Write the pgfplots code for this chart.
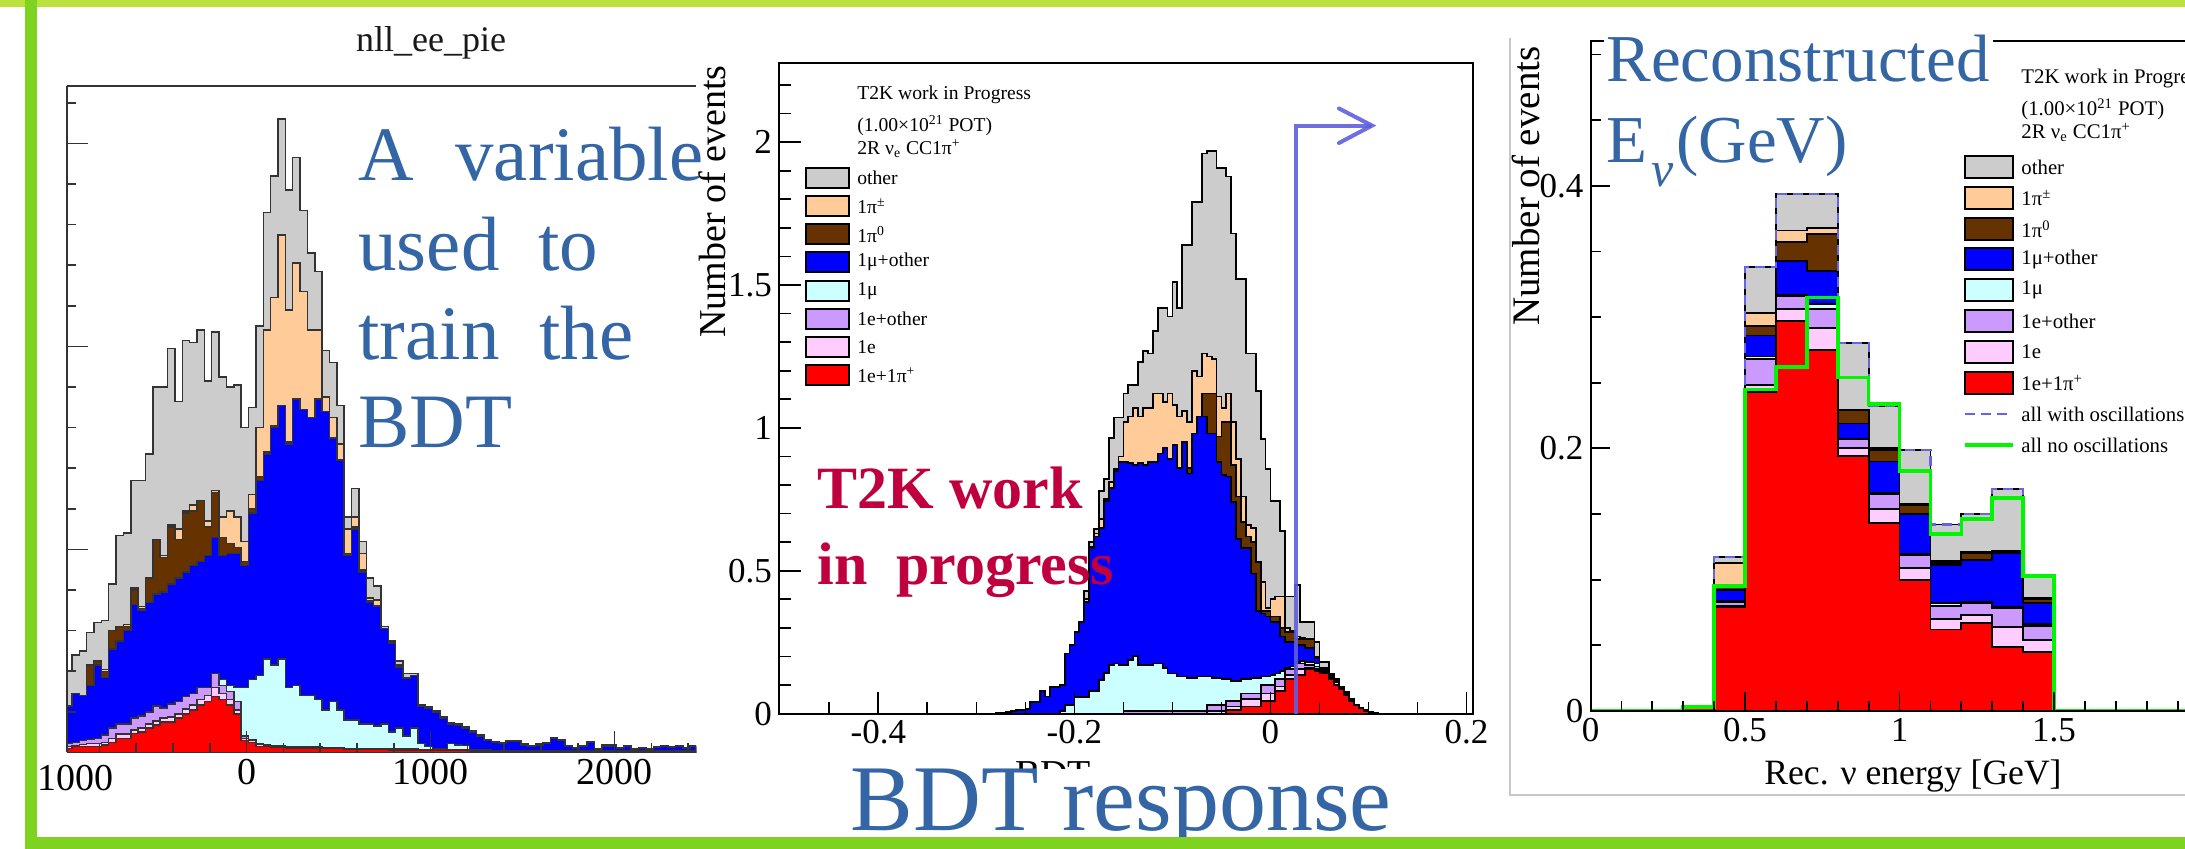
\documentclass[border=0pt]{standalone}
\usepackage{pgfplots}
\pgfplotsset{compat=1.18}
\usepackage{pgfplotstable}
\usepackage{fontspec}
\setmainfont{Liberation Serif}
\definecolor{rgray}{RGB}{204,204,204}
\definecolor{rorange}{RGB}{255,204,153}
\definecolor{rbrown}{RGB}{102,51,0}
\definecolor{rblue}{RGB}{0,0,255}
\definecolor{rcyan}{RGB}{204,255,255}
\definecolor{rpurple}{RGB}{204,153,255}
\definecolor{rpink}{RGB}{255,204,255}
\definecolor{rred}{RGB}{255,0,0}
\definecolor{ttblue}{RGB}{52,101,164}
\definecolor{crimson}{RGB}{192,0,62}
\definecolor{gtop}{RGB}{186,225,60}
\definecolor{gside}{RGB}{126,211,33}
\definecolor{arrowc}{RGB}{95,95,222}
\definecolor{oscdash}{RGB}{100,100,230}
\definecolor{nogreen}{RGB}{0,245,0}

\pgfplotstableread{
x r p u c b br o g
-975 .02 .03 .045 .045 .23 .23 .23 .40
-950 .03 .035 .05 .05 .29 .29 .29 .48
-910 .03 .04 .06 .06 .28 .28 .28 .50
-870 .03 .045 .065 .065 .33 .43 .43 .59
-830 .03 .045 .07 .07 .43 .45 .45 .64
-790 .037 .05 .085 .085 .37 .40 .41 .65
-750 .05 .07 .12 .12 .51 .60 .60 .83
-710 .07 .09 .14 .14 .55 .62 .62 1.07
-670 .07 .09 .14 .14 .60 .62 .63 1.08
-630 .094 .11 .17 .17 .73 .80 .81 1.34
-590 .10 .12 .18 .18 .70 .71 .72 1.34
-550 .12 .14 .20 .20 .74 .86 .86 1.47
-510 .135 .155 .23 .23 .78 1.05 1.05 1.80
-470 .15 .17 .22 .22 .79 .96 .97 1.80
-430 .15 .175 .24 .24 .83 1.11 1.12 1.99
-390 .17 .19 .25 .25 .86 1.05 1.10 1.73
-350 .19 .215 .275 .275 .89 1.18 1.19 2.03
-310 .21 .235 .29 .29 .92 1.19 1.22 2.02
-270 .234 .26 .32 .32 .94 1.24 1.24 2.08
-230 .25 .28 .32 .32 .97 1.11 1.14 1.83
-190 .275 .32 .39 .39 1.06 1.28 1.29 2.07
-150 .26 .29 .33 .36 .97 1.06 1.16 1.85
-110 .234 .26 .30 .33 .98 1.03 1.19 1.80
-70 .19 .21 .25 .32 .98 1.01 1.16 1.81
-30 .06 .07 .08 .32 .92 .94 1.04 1.60
10 .05 .06 .065 .36 1.18 1.20 1.27 1.70
50 .03 .04 .045 .38 1.34 1.36 1.60 2.10
90 .03 .035 .04 .46 1.47 1.48 2.08 2.66
130 .025 .03 .035 .43 1.60 1.61 2.24 2.84
170 .025 .03 .035 .46 1.71 1.71 2.55 3.12
210 .02 .025 .03 .32 1.52 1.53 2.18 2.77
250 .02 .025 .03 .33 1.74 1.74 2.41 2.93
290 .02 .025 .03 .28 1.69 1.69 2.27 2.67
330 .02 .025 .03 .28 1.65 1.65 2.08 2.46
370 .02 .025 .03 .26 1.74 1.74 2.08 2.37
410 .02 .022 .025 .21 1.68 1.68 1.75 1.98
450 .02 .022 .025 .25 1.55 1.55 1.65 1.92
490 .02 .022 .025 .21 1.44 1.44 1.52 1.71
530 .015 .018 .02 .16 .97 .98 1.10 1.16
570 .015 .018 .02 .16 1.10 1.11 1.16 1.30
610 .015 .018 .02 .14 .89 .90 .98 1.04
650 .015 .018 .02 .14 .74 .745 .76 .86
690 .015 .018 .02 .13 .72 .725 .75 .82
730 .015 .018 .02 .14 .61 .61 .61 .62
770 .012 .015 .018 .10 .54 .54 .545 .55
810 .012 .015 .018 .12 .42 .42 .43 .45
850 .012 .015 .018 .08 .365 .365 .37 .39
890 .012 .015 .018 .12 .38 .38 .38 .39
930 .01 .012 .015 .045 .23 .23 .23 .235
970 .01 .012 .015 .03 .22 .22 .22 .225
1010 .01 .012 .015 .02 .20 .20 .20 .205
1050 .01 .012 .015 .02 .17 .17 .17 .175
1090 .01 .012 .015 .045 .14 .14 .14 .145
1130 .01 .012 .015 .037 .135 .135 .135 .14
1170 .01 .012 .015 .035 .12 .12 .12 .125
1210 .008 .01 .012 .015 .10 .10 .10 .105
1250 .008 .01 .012 .012 .08 .08 .08 .085
1290 .008 .01 .012 .012 .06 .06 .06 .065
1330 .006 .008 .01 .01 .05 .05 .05 .055
1370 .005 .006 .008 .008 .045 .045 .045 .05
1410 .005 .006 .008 .008 .053 .053 .053 .058
1450 .005 .006 .008 .008 .053 .053 .053 .058
1490 .005 .006 .008 .008 .037 .037 .037 .042
1530 .005 .006 .008 .008 .03 .03 .03 .035
1570 .005 .006 .008 .008 .037 .037 .037 .042
1610 .005 .006 .008 .008 .045 .045 .045 .05
1650 .005 .006 .008 .008 .07 .07 .07 .075
1690 .005 .006 .008 .008 .06 .06 .06 .065
1730 .005 .006 .008 .008 .03 .03 .03 .035
1770 .005 .006 .008 .008 .02 .02 .02 .025
1810 .005 .006 .008 .008 .03 .03 .03 .035
1850 .005 .006 .008 .008 .05 .05 .05 .055
1890 .005 .006 .008 .008 .015 .015 .015 .02
1930 .005 .006 .008 .008 .032 .032 .032 .037
1970 .005 .006 .008 .008 .032 .032 .032 .037
2010 .005 .006 .008 .008 .02 .02 .02 .025
2050 .005 .006 .008 .008 .03 .03 .03 .035
2090 .005 .006 .008 .008 .012 .012 .012 .017
2130 .005 .006 .008 .008 .02 .02 .02 .025
2170 .005 .006 .008 .008 .015 .015 .015 .02
2210 .005 .006 .008 .008 .024 .024 .024 .029
2250 .005 .006 .008 .008 .03 .03 .03 .035
2290 .005 .006 .008 .008 .024 .024 .024 .029
2330 .005 .006 .008 .008 .03 .03 .03 .035
2370 .005 .006 .008 .008 .02 .02 .02 .025
2410 .005 .006 .008 .008 .03 .03 .03 .035
2442 .005 .006 .008 .008 .03 .03 .03 .035
}\tabone

\pgfplotstableread{
x r p u c b br o g
-0.285 0 0 0 0 0 0 0 0
-0.280 0 0 0 0 .003 .003 .003 .003
-0.275 0 0 0 0 .003 .003 .003 .003
-0.270 0 0 0 0 .005 .005 .005 .005
-0.265 0 0 0 0 .008 .008 .008 .008
-0.260 0 0 0 0 .013 .013 .013 .013
-0.255 0 0 0 0 .013 .013 .013 .013
-0.250 0 0 0 0 .015 .015 .015 .015
-0.245 0 0 0 0 .04 .04 .04 .04
-0.240 0 0 0 0 .04 .04 .04 .04
-0.235 0 0 0 0 .08 .08 .08 .08
-0.230 0 0 0 0 .06 .06 .06 .06
-0.225 0 0 0 0 .094 .094 .094 .094
-0.220 0 0 0 0 .094 .094 .094 .094
-0.215 0 0 0 .01 .10 .10 .10 .10
-0.210 0 0 0 .03 .21 .21 .21 .21
-0.205 0 0 0 .03 .24 .24 .24 .24
-0.200 0 0 0 .058 .285 .285 .285 .285
-0.195 0 0 0 .058 .32 .32 .32 .32
-0.190 0 0 0 .058 .39 .39 .40 .43
-0.185 0 0 0 .078 .58 .58 .585 .60
-0.180 0 0 0 .078 .62 .62 .63 .645
-0.175 0 0 0 .117 .65 .65 .68 .78
-0.170 0 0 0 .143 .745 .745 .75 .82
-0.165 0 0 0 .169 .79 .79 .81 .965
-0.160 0 0 0 .175 .85 .85 .855 1.036
-0.155 0 0 0 .169 .88 .88 .90 1.036
-0.150 0 0 .01 .169 .88 .88 1.02 1.12
-0.145 0 0 .01 .188 .876 .876 1.04 1.15
-0.140 0 0 .01 .201 .87 .87 1.07 1.15
-0.135 0 0 .01 .169 .876 .876 1.04 1.23
-0.130 0 0 .01 .17 .87 .87 1.07 1.27
-0.125 0 0 .01 .169 .88 .88 1.07 1.26
-0.120 0 0 .01 .175 .88 .88 1.12 1.34
-0.115 0 0 .01 .175 .91 .91 1.12 1.42
-0.110 0 0 .01 .16 .93 .93 1.09 1.42
-0.105 0 0 .01 .14 .89 .89 1.12 1.39
-0.100 0 0 .01 .14 .94 .94 1.08 1.51
-0.095 0 0 .01 .13 .86 .86 1.04 1.42
-0.090 0 0 .01 .13 .95 .95 1.06 1.64
-0.085 0 0 .01 .125 .84 .86 1.02 1.64
-0.080 0 0 .01 .125 .98 .98 1.20 1.79
-0.075 0 0 .01 .13 1.04 1.04 1.18 1.79
-0.070 0 0 .01 .13 1.04 1.12 1.26 1.96
-0.065 0 .01 .03 .13 .98 1.12 1.25 1.97
-0.060 0 .01 .03 .125 .98 1.12 1.24 1.97
-0.055 0 .01 .03 .125 .88 .97 1.11 1.91
-0.050 0 .01 .03 .12 .835 1.02 1.07 1.91
-0.045 .013 .025 .045 .12 .83 1.02 1.12 1.88
-0.040 .013 .025 .045 .115 .74 .87 1.02 1.68
-0.035 .013 .025 .045 .115 .61 .76 .89 1.52
-0.030 .025 .05 .07 .12 .58 .67 .76 1.52
-0.025 .025 .05 .07 .12 .58 .62 .66 1.26
-0.020 .025 .05 .07 .125 .49 .60 .65 1.26
-0.015 .025 .05 .07 .125 .36 .53 .53 1.13
-0.010 .045 .07 .10 .13 .35 .36 .46 .96
-0.005 .045 .07 .10 .13 .34 .36 .37 .855
0.000 .045 .07 .10 .135 .32 .34 .40 .745
0.005 .08 .095 .12 .14 .32 .34 .41 .745
0.010 .08 .095 .12 .15 .27 .30 .41 .64
0.015 .12 .135 .155 .16 .25 .285 .30 .41
0.020 .12 .135 .155 .165 .25 .285 .29 .41
0.025 .135 .155 .175 .18 .24 .26 .27 .45
0.030 .135 .155 .175 .185 .24 .26 .265 .32
0.035 .155 .16 .17 .18 .23 .26 .26 .32
0.040 .155 .16 .17 .18 .23 .26 .26 .32
0.045 .15 .155 .165 .175 .195 .20 .20 .25
0.050 .14 .14 .145 .15 .155 .16 .16 .18
0.055 .14 .14 .145 .15 .155 .16 .16 .18
0.060 .12 .125 .13 .13 .135 .135 .135 .14
0.065 .10 .11 .115 .115 .118 .118 .118 .12
0.070 .085 .088 .09 .09 .095 .095 .095 .095
0.075 .065 .068 .07 .07 .075 .075 .075 .075
0.080 .045 .048 .05 .05 .05 .05 .05 .05
0.085 .028 .03 .03 .03 .03 .03 .03 .03
0.090 .018 .02 .02 .02 .02 .02 .02 .02
0.095 .01 .012 .012 .012 .012 .012 .012 .012
0.100 .005 .006 .006 .006 .006 .006 .006 .006
0.105 .002 .003 .003 .003 .003 .003 .003 .003
0.110 0 0 0 0 0 0 0 0
}\tabtwo

\pgfplotstableread{
x r p u c b br o g n
0.0 0 0 0 0 0 0 0 0 0
0.1 0 0 0 0 0 0 0 0 0
0.2 0 0 0 0 0 0 0 0 0
0.3 .003 .003 .003 .003 .003 .003 .003 .003 .003
0.4 .079 .080 .083 .084 .092 .094 .113 .117 .095
0.5 .243 .248 .268 .27 .286 .293 .303 .338 .245
0.6 .297 .306 .316 .317 .343 .357 .366 .394 .262
0.7 .275 .292 .306 .31 .335 .363 .368 .394 .315
0.8 .194 .20 .207 .207 .219 .229 .229 .28 .254
0.9 .143 .154 .165 .166 .19 .199 .20 .232 .234
1.0 .10 .109 .119 .12 .15 .157 .158 .199 .183
1.1 .062 .07 .08 .082 .111 .113 .114 .142 .135
1.2 .067 .073 .082 .083 .115 .12 .121 .15 .146
1.3 .049 .064 .078 .079 .12 .121 .122 .169 .162
1.4 .045 .054 .065 .066 .082 .085 .086 .102 .103
1.5 0 0 0 0 0 0 0 0 0
1.6 0 0 0 0 0 0 0 0 0
1.7 0 0 0 0 0 0 0 0 0
1.8 0 0 0 0 0 0 0 0 0
1.9 0 0 0 0 0 0 0 0 0
2.0 0 0 0 0 0 0 0 0 0
}\tabthree

\newcommand{\stackplot}[2]{%
  \addplot[const plot, draw=#2, fill=rgray] table[x=x,y=g]{#1} \closedcycle;
  \addplot[const plot, draw=#2, fill=rorange] table[x=x,y=o]{#1} \closedcycle;
  \addplot[const plot, draw=#2, fill=rbrown] table[x=x,y=br]{#1} \closedcycle;
  \addplot[const plot, draw=#2, fill=rblue] table[x=x,y=b]{#1} \closedcycle;
  \addplot[const plot, draw=#2, fill=rcyan] table[x=x,y=c]{#1} \closedcycle;
  \addplot[const plot, draw=#2, fill=rpurple] table[x=x,y=u]{#1} \closedcycle;
  \addplot[const plot, draw=#2, fill=rpink] table[x=x,y=p]{#1} \closedcycle;
  \addplot[const plot, draw=#2, fill=rred] table[x=x,y=r]{#1} \closedcycle;
}

\pgfplotsset{rootax/.style={scale only axis, anchor=south west, axis on top,
  tick align=inside, major tick length=9.5pt, minor tick length=5pt,
  axis line style={line width=1pt, black}, tick style={line width=0.9pt, black},
  tick label style={font=\fontsize{17.5pt}{18pt}\selectfont},
  /pgf/number format/assume math mode=true,
  /pgf/number format/1000 sep={},
  every axis plot/.append style={line width=0.9pt},
  xtick pos=left, ytick pos=left}}

\begin{document}
\begin{tikzpicture}
\path[use as bounding box] (0,0) rectangle (1092.5pt,424.5pt);
\clip (0,0) rectangle (1092.5pt,424.5pt);

% panel 3 canvas edges
\begin{scope}[shift={(0pt,424.5pt)}, x=0.5pt, y=-0.5pt]
\draw[black!22, line width=0.6pt] (1510,38) -- (1510,795) -- (2190,795);
\end{scope}

% ---------- Panel 1 ----------
\begin{axis}[rootax, at={(33.65pt,48.25pt)}, width=314.35pt, height=333.25pt,
  xmin=-975, xmax=2442, ymin=0, ymax=3.283,
  axis x line*=box, axis y line*=left, xtick pos=left, ytick pos=left,
  xtick={0,1000,2000},
  minor xtick={-800,-600,-400,-200,200,400,600,800,1200,1400,1600,1800,2200,2400},
  ytick={0,1,2,3}, minor ytick={0.2,0.4,...,3.2}, yticklabels={},
  major tick length=10.5pt, minor tick length=4.5pt,
  axis line style={line width=0.8pt, black!80},
  tick style={line width=0.8pt, black!80},
  every axis plot/.append style={line width=0.75pt},
  tick label style={font=\fontsize{19pt}{20pt}\selectfont}]
\stackplot{\tabone}{black!80}
\end{axis}

% ---------- Panel 2 ----------
\begin{axis}[rootax, at={(389.5pt,67.7pt)}, width=347pt, height=325.15pt,
  xmin=-0.5014, xmax=0.2067, ymin=0, ymax=2.276,
  xtick={-0.4,-0.2,0,0.2},
  minor xtick={-0.45,-0.35,-0.3,-0.25,-0.15,-0.1,-0.05,0.05,0.1,0.15},
  ytick={0,0.5,1,1.5,2}, minor ytick={0.1,0.2,...,2.2},
  major tick length=11pt, minor tick length=6pt]
\stackplot{\tabtwo}{black}
\end{axis}

% ---------- Panel 3 ----------
\begin{axis}[rootax, at={(795.25pt,69pt)}, width=309pt, height=335.2pt,
  xmin=0, xmax=2, ymin=0, ymax=0.5106,
  xtick={0,0.5,1,1.5,2}, minor xtick={0.1,0.2,...,1.9},
  ytick={0,0.2,0.4}, minor ytick={0.05,0.1,...,0.5},
  major tick length=9.5pt, minor tick length=5pt]
\stackplot{\tabthree}{black}
\addplot[const plot, draw=oscdash, dash pattern=on 5pt off 3pt, line width=1.1pt] table[x=x,y=g]{\tabthree};
\addplot[const plot, draw=nogreen, line width=1.8pt] table[x=x,y=n]{\tabthree};
\end{axis}

\begin{scope}[shift={(0pt,424.5pt)}, x=0.5pt, y=-0.5pt]
% panel 1 texts
\node[anchor=base, font=\fontsize{18pt}{19pt}\selectfont, text=black!90, inner sep=0] at (431,51.5) {nll\_ee\_pie};
\node[anchor=base east, font=\fontsize{19pt}{20pt}\selectfont, inner sep=0] at (114,791) {-1000};

% panel 2 labels
\node[rotate=90, anchor=base east, font=\fontsize{19pt}{20pt}\selectfont, inner sep=0] at (725,65) {Number of events};
\node[anchor=base, font=\fontsize{19pt}{20pt}\selectfont, inner sep=0] at (1053,787) {BDT};
% panel 2 legend
\begin{scope}[font=\fontsize{9.8pt}{11pt}\selectfont]
\node[anchor=base west, inner sep=0] at (857,99.3) {T2K work in Progress};
\node[anchor=base west, inner sep=0] at (857,131.7) {(1.00×10\textsuperscript{21} POT)};
\node[anchor=base west, inner sep=0] at (857,155) {2R ν\textsubscript{e} CC1π\textsuperscript{+}};
\foreach \yy/\cc/\lab in {178.3/rgray/other, 206/rorange/1π\textsuperscript{±}, 234.3/rbrown/1π\textsuperscript{0}, 262.3/rblue/1μ+other, 290.7/rcyan/1μ, 319/rpurple/1e+other, 347.3/rpink/1e, 375.3/rred/1e+1π\textsuperscript{+}}{
  \draw[fill=\cc, line width=1pt] (806,\yy-10) rectangle (849,\yy+10);
  \node[anchor=west, inner sep=0] at (857,\yy) {\lab};
}
\end{scope}
% arrow
\draw[arrowc, line width=2pt, opacity=0.9] (1296,713.6) -- (1296,125.6) -- (1371,125.6);
\draw[arrowc, line width=2pt, opacity=0.9, line cap=round, line join=miter] (1339,108.5) -- (1372,125.6) -- (1339,143);

% panel 3 labels
\node[rotate=90, anchor=base east, font=\fontsize{19.5pt}{20pt}\selectfont, inner sep=0] at (1539,46) {Number of events};
\node[anchor=base, font=\fontsize{17.8pt}{19pt}\selectfont, inner sep=0] at (1913,785) {Rec. ν energy [GeV]};
\begin{scope}[font=\fontsize{10.4pt}{11pt}\selectfont]
\node[anchor=base west, inner sep=0] at (2021,83.3) {T2K work in Progress};
\node[anchor=base west, inner sep=0] at (2021,116) {(1.00×10\textsuperscript{21} POT)};
\node[anchor=base west, inner sep=0] at (2021,138.3) {2R ν\textsubscript{e} CC1π\textsuperscript{+}};
\foreach \yy/\cc/\lab in {167.3/rgray/other, 197.7/rorange/1π\textsuperscript{±}, 229/rbrown/1π\textsuperscript{0}, 259.3/rblue/1μ+other, 290/rcyan/1μ, 321/rpurple/1e+other, 351.7/rpink/1e, 382.7/rred/1e+1π\textsuperscript{+}}{
  \draw[fill=\cc, line width=1pt] (1965,\yy-11) rectangle (2012.7,\yy+11);
  \node[anchor=west, inner sep=0] at (2021,\yy) {\lab};
}
\draw[oscdash, line width=1.1pt, dash pattern=on 5pt off 3pt] (1965,414) -- (2012.7,414);
\node[anchor=west, inner sep=0] at (2021,414) {all with oscillations};
\draw[nogreen, line width=1.8pt] (1965,445) -- (2012.7,445);
\node[anchor=west, inner sep=0] at (2021,445) {all no oscillations};
\end{scope}

% overlay texts
\begin{scope}[text=ttblue, font=\fontsize{38.5pt}{40pt}\selectfont, inner sep=0]
\node[anchor=base west] at (358,181) {A};
\node[anchor=base west] at (455,181) {variable};
\node[anchor=base west] at (358,271) {used};
\node[anchor=base west] at (538,271) {to};
\node[anchor=base west] at (358,360) {train};
\node[anchor=base west] at (539,360) {the};
\node[anchor=base west] at (358,448) {BDT};
\end{scope}

\fill[white] (845,769) rectangle (1410,837);
\node[anchor=base west, text=ttblue, font=\fontsize{47pt}{48pt}\selectfont, inner sep=0] at (850.5,831) {BDT response};

\begin{scope}[text=crimson, font=\bfseries\fontsize{30pt}{31pt}\selectfont, inner sep=0]
\node[anchor=base west] at (817,509) {T2K work};
\node[anchor=base west] at (817,585) {in};
\node[anchor=base west] at (896,585) {progress};
\end{scope}

\fill[white] (1604,30) rectangle (1993,50);
\begin{scope}[text=ttblue, inner sep=0]
\node[anchor=base west, font=\fontsize{33.5pt}{34pt}\selectfont] at (1606,82) {Reconstructed};
\node[anchor=base west, font=\fontsize{33.5pt}{34pt}\selectfont] at (1606,162.4) {E};
\node[anchor=base west, font=\itshape\fontsize{25pt}{26pt}\selectfont] at (1651,187) {ν};
\node[anchor=base west, font=\fontsize{33.5pt}{34pt}\selectfont] at (1676,162.4) {(GeV)};
\end{scope}

% green frame
\fill[gtop] (0,0) rectangle (2185,7);
\fill[gside] (25,0) rectangle (37,849);
\fill[gside] (25,837) rectangle (2185,849);
\end{scope}
\end{tikzpicture}
\end{document}
